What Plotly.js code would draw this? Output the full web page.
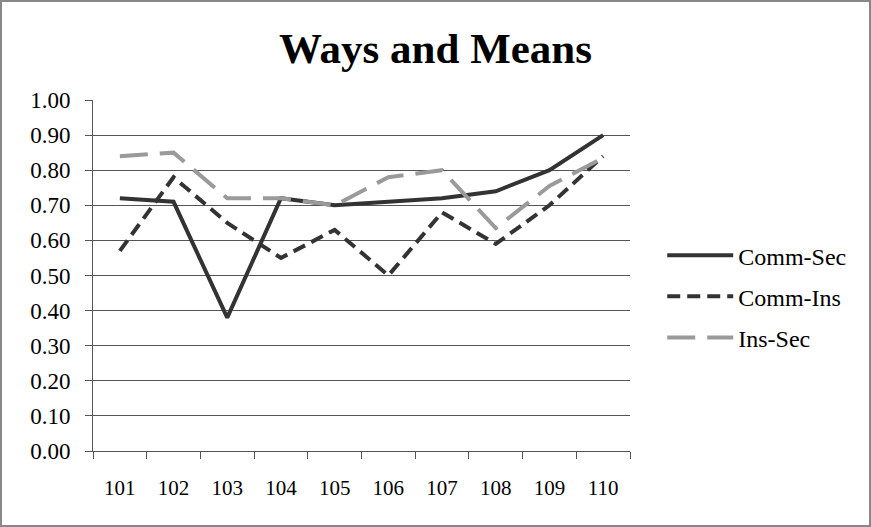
<!DOCTYPE html>
<html>
<head>
<meta charset="utf-8">
<script src="https://cdn.plot.ly/plotly-3.0.1.min.js"></script>
<style>
html,body{margin:0;padding:0;background:#fff;}
#chart{width:871px;height:527px;}
#frame{position:absolute;left:0;top:0;width:871px;height:527px;box-sizing:border-box;border:2px solid #888;pointer-events:none;}
</style>
</head>
<body>
<div id="chart"></div>
<div id="frame"></div>
<script>
const congress = ["101","102","103","104","105","106","107","108","109","110"];
const commSec = [0.72,0.71,0.38,0.72,0.70,0.71,0.72,0.74,0.80,0.90];
const commIns = [0.57,0.78,0.65,0.55,0.63,0.50,0.68,0.59,0.70,0.84];
const insSec  = [0.84,0.85,0.72,0.72,0.70,0.78,0.80,0.635,0.755,0.835];
const yTicks = [0,0.1,0.2,0.3,0.4,0.5,0.6,0.7,0.8,0.9,1.0];

const font = "Liberation Serif, Times New Roman, serif";
const traces = [
  {x: congress, y: commSec, name: "Comm-Sec", legendgroup: "a", type: "scatter", mode: "lines",
   line: {color: "#333333", width: 4}},
  {x: congress, y: commIns, name: "Comm-Ins", legendgroup: "b", type: "scatter", mode: "lines",
   line: {color: "#333333", width: 4, dash: "13px,7px"}},
  {x: congress, y: insSec, name: "Ins-Sec", legendgroup: "c", type: "scatter", mode: "lines",
   line: {color: "#9a9a9a", width: 4, dash: "28px,12px"}}
];
const layout = {
  width: 871, height: 527,
  margin: {l: 93, r: 241, t: 100, b: 76},
  paper_bgcolor: "#fff", plot_bgcolor: "#fff",
  title: {text: "<b>Ways and Means</b>", font: {family: font, size: 43, color: "#000"},
          x: 0.5, xref: "container", xanchor: "center", y: 0.909, yref: "container", yanchor: "middle"},
  font: {family: font, color: "#000", size: 20},
  xaxis: {type: "category", range: [-0.5, 9.5], tickson: "boundaries", ticks: "outside", ticklen: 7,
          tickcolor: "#555", showline: true, linecolor: "#555", linewidth: 1,
          ticklabelstandoff: 18,
          showgrid: false, tickfont: {size: 21, family: font}, fixedrange: true},
  yaxis: {range: [0, 1], tickvals: yTicks, tickformat: ".2f", ticks: "outside",
          ticklen: 7, tickcolor: "#555", showline: true, linecolor: "#555",
          ticklabelstandoff: 10,
          gridcolor: "#555", gridwidth: 1, zeroline: false,
          tickfont: {size: 23, family: font}, fixedrange: true},
  showlegend: true,
  legend: {x: 1.06, y: 0.44, xanchor: "left", yanchor: "middle",
           traceorder: "grouped", tracegroupgap: 7,
           font: {size: 24, family: font}, itemwidth: 66,
           bgcolor: "rgba(0,0,0,0)"}
};
Plotly.newPlot("chart", traces, layout, {displayModeBar: false, staticPlot: true});
</script>
</body>
</html>
